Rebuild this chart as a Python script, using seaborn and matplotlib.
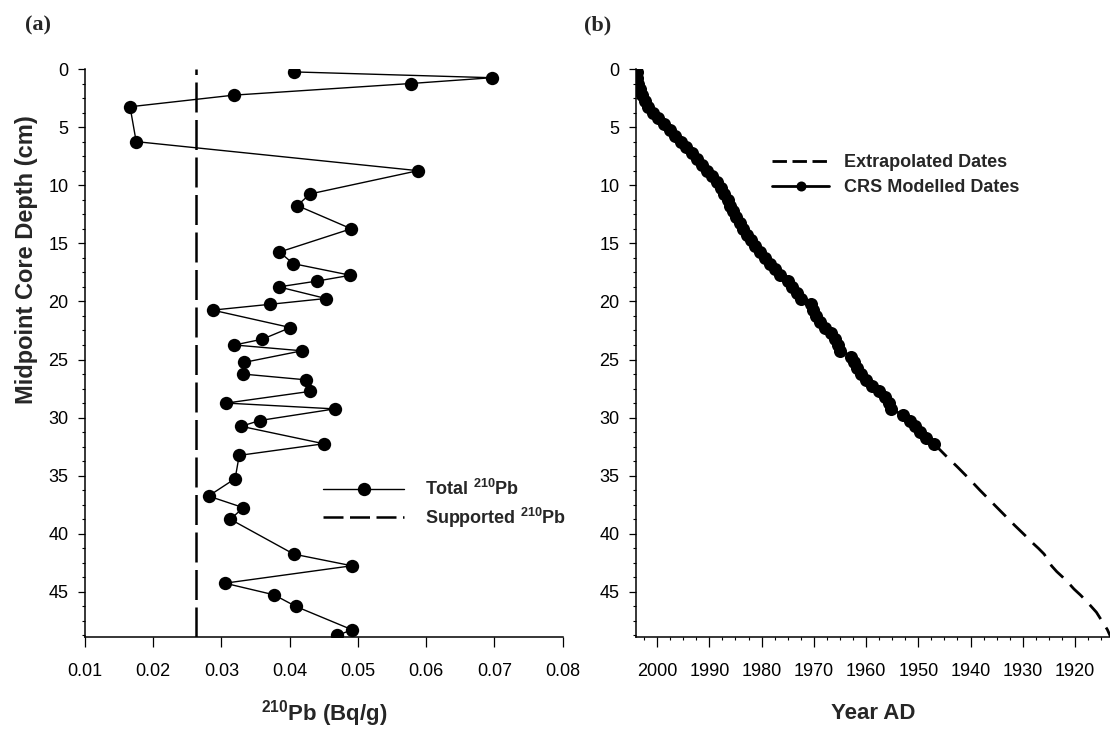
import matplotlib
matplotlib.use("Agg")
import matplotlib.pyplot as plt
from matplotlib.lines import Line2D
from matplotlib.ticker import MultipleLocator, FixedLocator
from matplotlib.font_manager import FontProperties
import pandas as pd
import seaborn as sns

# ---- Panel (a): total 210Pb activity down the core ----
pb_depth_cm = [0.25, 0.75, 1.25, 2.25, 3.25, 6.25, 8.75, 10.75, 11.75, 13.75,
               15.75, 16.75, 17.75, 18.25, 18.75, 19.75, 20.25, 20.75, 22.25, 23.25,
               23.75, 24.25, 25.25, 26.25, 26.75, 27.75, 28.75, 29.25, 30.25, 30.75,
               32.25, 33.25, 35.25, 36.75, 37.75, 38.75, 41.75, 42.75, 44.25, 45.25,
               46.25, 48.25, 48.75]
pb_total_bqg = [0.0406, 0.0696, 0.0577, 0.0318, 0.0166, 0.0175, 0.0588, 0.0430, 0.0411, 0.0490,
                0.0385, 0.0405, 0.0489, 0.0440, 0.0384, 0.0453, 0.0371, 0.0287, 0.0401, 0.0360,
                0.0319, 0.0418, 0.0333, 0.0331, 0.0424, 0.0429, 0.0307, 0.0466, 0.0356, 0.0329,
                0.0450, 0.0326, 0.0320, 0.0281, 0.0332, 0.0313, 0.0406, 0.0491, 0.0305, 0.0377,
                0.0409, 0.0491, 0.0470]
supported_pb_bqg = 0.0263

# ---- Panel (b): CRS model chronology ----
crs_depth_cm = [0.25, 0.75, 1.25, 1.75, 2.25, 2.75, 3.25, 3.75, 4.25, 4.75,
                5.25, 5.75, 6.25, 6.75, 7.25, 7.75, 8.25, 8.75, 9.25, 9.75,
                10.25, 10.75, 11.25, 11.75, 12.25, 12.75, 13.25, 13.75, 14.25, 14.75,
                15.25, 15.75, 16.25, 16.75, 17.25, 17.75, 18.25, 18.75, 19.25, 19.75,
                20.25, 20.75, 21.25, 21.75, 22.25, 22.75, 23.25, 23.75, 24.25, 24.75,
                25.25, 25.75, 26.25, 26.75, 27.25, 27.75, 28.25, 28.75, 29.25, 29.75,
                30.25, 30.75, 31.25, 31.75, 32.25]
crs_year_ad = [2003.9, 2003.8, 2003.6, 2003.3, 2002.9, 2002.4, 2001.7, 2000.8, 1999.8, 1998.7,
               1997.6, 1996.6, 1995.5, 1994.4, 1993.4, 1992.4, 1991.4, 1990.4, 1989.4, 1988.6,
               1987.8, 1987.2, 1986.5, 1986.0, 1985.5, 1984.9, 1984.2, 1983.5, 1982.8, 1982.0,
               1981.2, 1980.3, 1979.4, 1978.4, 1977.4, 1976.4, 1974.9, 1974.1, 1973.2, 1972.4,
               1970.6, 1970.1, 1969.6, 1968.8, 1967.8, 1966.7, 1966.0, 1965.3, 1964.9, 1962.8,
               1962.3, 1961.8, 1961.0, 1960.0, 1958.8, 1957.5, 1956.3, 1955.6, 1955.3, 1953.0,
               1951.6, 1950.6, 1949.6, 1948.6, 1947.0]
extrap_depth_cm = [32.25, 33.25, 34.25, 35.25, 36.25, 37.25, 38.25, 39.25, 40.25, 40.75,
                   41.25, 41.75, 42.25, 42.75, 43.25, 43.75, 44.25, 44.75, 45.25, 45.75,
                   46.25, 46.75, 47.25, 47.75, 48.25, 48.75, 49.25]
extrap_year_ad = [1947.0, 1944.8, 1942.5, 1940.3, 1938.2, 1936.0, 1933.8, 1931.6, 1929.3, 1928.2,
                  1927.0, 1925.9, 1925.2, 1924.5, 1923.5, 1922.3, 1921.2, 1920.2, 1919.0, 1917.9,
                  1916.9, 1915.9, 1915.2, 1914.5, 1913.8, 1913.3, 1912.6]

pb_ticks = [0.01, 0.02, 0.03, 0.04, 0.05, 0.06, 0.07, 0.08]
pb_ticklabels = ["0.01", "0.02", "0.03", "0.04", "0.05", "0.06", "0.07", "0.08"]
year_ticks = [2000, 1990, 1980, 1970, 1960, 1950, 1940, 1930, 1920]
depth_ticks = [0, 5, 10, 15, 20, 25, 30, 35, 40, 45]

sns.set_theme(style="ticks")
plt.rcParams["font.family"] = ["Liberation Sans", "DejaVu Sans"]
plt.rcParams["mathtext.fontset"] = "custom"
plt.rcParams["mathtext.rm"] = "Liberation Sans"
plt.rcParams["mathtext.bf"] = "Liberation Sans:bold"
plt.rcParams["axes.edgecolor"] = "black"
plt.rcParams["xtick.color"] = "black"
plt.rcParams["ytick.color"] = "black"

W, H = 1110, 730
fig = plt.figure(figsize=(W / 100, H / 100), dpi=100)
fig.patch.set_facecolor("white")


def axes_px(left, top, right, bottom):
    return fig.add_axes([left / W, 1 - bottom / H, (right - left) / W, (bottom - top) / H])


ax_a = axes_px(85, 69, 562.7, 637)
ax_b = axes_px(635.7, 69, 1110, 637)

df_pb = pd.DataFrame({"depth": pb_depth_cm, "pb": pb_total_bqg})
df_crs = pd.DataFrame({"depth": crs_depth_cm, "year": crs_year_ad})
df_ext = pd.DataFrame({"depth": extrap_depth_cm, "year": extrap_year_ad})

# (a) activity profile
sns.lineplot(data=df_pb, x="pb", y="depth", sort=False, estimator=None, ax=ax_a,
             color="black", linewidth=1.0, marker="o", markersize=9.6,
             markeredgecolor="black", markeredgewidth=0, legend=False)
ax_a.axvline(supported_pb_bqg, color="black", linewidth=1.8, linestyle=(0, (12, 3)))

# (b) chronology
sns.lineplot(data=df_ext, x="year", y="depth", sort=False, estimator=None, ax=ax_b,
             color="black", linewidth=2.0, linestyle=(0, (6.5, 3.6)), legend=False)
sns.lineplot(data=df_crs, x="year", y="depth", sort=False, estimator=None, ax=ax_b,
             color="black", linewidth=2.0, marker="o", markersize=9.4,
             markeredgecolor="black", markeredgewidth=0, legend=False)

tick_font = 13
label_font = FontProperties(family="Liberation Sans", weight="bold", size=16)

for ax in (ax_a, ax_b):
    ax.set_ylim(48.88, 0)
    ax.yaxis.set_major_locator(FixedLocator(depth_ticks))
    ax.yaxis.set_minor_locator(MultipleLocator(1.25))
    ax.set_yticklabels([str(t) for t in depth_ticks])
    ax.tick_params(axis="y", which="major", direction="out", length=5.3, width=0.9,
                   pad=6.5, labelsize=tick_font)
    ax.tick_params(axis="y", which="minor", direction="out", length=2.3, width=0.8)
    ax.tick_params(axis="x", which="major", direction="out", length=7, width=0.9,
                   pad=11.5, labelsize=tick_font)
    ax.tick_params(axis="x", which="minor", direction="out", length=2.5, width=0.8)
    for side in ("left", "bottom"):
        ax.spines[side].set_linewidth(1.1)
    ax.set_ylabel("")
    ax.set_xlabel("")
sns.despine(fig=fig)

ax_a.set_xlim(0.01, 0.08)
ax_a.xaxis.set_major_locator(FixedLocator(pb_ticks))
ax_a.set_xticklabels(pb_ticklabels)
ax_a.xaxis.set_minor_locator(FixedLocator([]))

ax_b.set_xlim(2004.1, 1913.3)
ax_b.xaxis.set_major_locator(FixedLocator(year_ticks))
ax_b.set_xticklabels([str(y) for y in year_ticks])
ax_b.xaxis.set_minor_locator(MultipleLocator(2.5))

ax_a.set_xlabel(r"$^{\mathbf{210}}$Pb (Bq/g)", fontproperties=label_font, labelpad=13)
ax_b.set_xlabel("Year AD", fontproperties=label_font, labelpad=17)
ax_a.set_ylabel("Midpoint Core Depth (cm)",
                fontproperties=FontProperties(family="Liberation Sans", weight="bold", size=17))
ax_a.yaxis.set_label_coords(-0.098, 0.665)

# legends
legend_font = FontProperties(family="Liberation Sans", weight="bold", size=13)
handles_a = [
    Line2D([], [], color="black", linewidth=1.0, marker="o", markersize=9.6,
           markeredgewidth=0),
    Line2D([], [], color="black", linewidth=1.8, linestyle=(0, (8, 2.6))),
]
labels_a = [r"Total $^{\mathbf{210}}$Pb", r"Supported $^{\mathbf{210}}$Pb"]
ax_a.legend(handles_a, labels_a, loc="upper left", bbox_to_anchor=(323 / W, 1 - 479 / H),
            bbox_transform=fig.transFigure, frameon=False, borderpad=0, borderaxespad=0,
            handlelength=4.49, handletextpad=1.16, labelspacing=0.35, prop=legend_font)

handles_b = [
    Line2D([], [], color="black", linewidth=2.0, linestyle=(0, (5.2, 2.0))),
    Line2D([], [], color="black", linewidth=2.0, marker="o", markersize=7.2,
           markeredgewidth=0),
]
labels_b = ["Extrapolated Dates", "CRS Modelled Dates"]
ax_b.legend(handles_b, labels_b, loc="upper left", bbox_to_anchor=(772 / W, 1 - 154 / H),
            bbox_transform=fig.transFigure, frameon=False, borderpad=0, borderaxespad=0,
            handlelength=3.16, handletextpad=0.83, labelspacing=0.45, prop=legend_font)

panel_font = dict(family="Liberation Serif", weight="bold", size=16, ha="center", va="center")
fig.text(38 / W, 1 - 25 / H, "(a)", **panel_font)
fig.text(598 / W, 1 - 25 / H, "(b)", **panel_font)

fig.savefig("out.png", dpi=100, facecolor="white")
